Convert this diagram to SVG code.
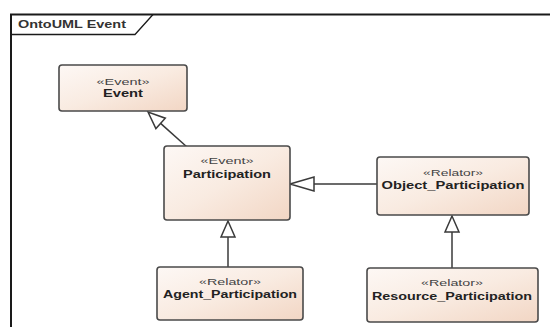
<svg xmlns="http://www.w3.org/2000/svg" width="550" height="327" viewBox="0 0 550 327">
  <defs>
    <linearGradient id="boxfill" x1="0" y1="0" x2="1" y2="1">
      <stop offset="0" stop-color="#fdf8f5"/>
      <stop offset="0.5" stop-color="#f9ebe1"/>
      <stop offset="1" stop-color="#f2d6c4"/>
    </linearGradient>
    <style>
      .box { fill: url(#boxfill); stroke: #4a4a4a; stroke-width: 1.6; }
      .st { font-family: "Liberation Sans", Arial, sans-serif; font-size: 9px; fill: #444; text-anchor: middle; }
      .nm { font-family: "Liberation Sans", Arial, sans-serif; font-size: 11px; font-weight: bold; fill: #222; text-anchor: middle; }
      .conn { stroke: #3a3a3a; stroke-width: 1.5; fill: none; }
      .head { fill: #ffffff; stroke: #3a3a3a; stroke-width: 1.5; stroke-linejoin: miter; }
      .frame { stroke: #1a1a1a; stroke-width: 2; fill: none; }
    </style>
  </defs>
  <rect width="550" height="327" fill="#ffffff"/>

  <g id="frame">
    <path class="frame" d="M11,327 L11,14.5 L550,14.5"/>
    <path d="M11,34.5 L135,34.5 L153,14.5" fill="none" stroke="#1a1a1a" stroke-width="1.3"/>
    <text x="18" y="28" font-family="Liberation Sans, Arial, sans-serif" font-size="11" font-weight="bold" fill="#333" textLength="108" lengthAdjust="spacingAndGlyphs">OntoUML Event</text>
  </g>

  <g id="connectors">
    <line class="conn" x1="187" y1="147" x2="160.6" y2="123.4"/>
    <polygon class="head" points="148,112 155.9,128.6 165.3,118.2"/>
    <line class="conn" x1="377" y1="184" x2="314" y2="184"/>
    <polygon class="head" points="290,184 314,177 314,191"/>
    <line class="conn" x1="228" y1="267" x2="228" y2="237"/>
    <polygon class="head" points="228,221 221,237 235,237"/>
    <line class="conn" x1="452" y1="268" x2="452" y2="232"/>
    <polygon class="head" points="452,216 445,232 459,232"/>
  </g>

  <g id="node-event">
    <rect class="box" x="59" y="65" width="128" height="46" rx="3"/>
    <text class="st" x="123" y="85" textLength="53" lengthAdjust="spacingAndGlyphs">«Event»</text>
    <text class="nm" x="123" y="97" textLength="40" lengthAdjust="spacingAndGlyphs">Event</text>
  </g>

  <g id="node-participation">
    <rect class="box" x="164" y="146" width="126" height="74" rx="3"/>
    <text class="st" x="227" y="164" textLength="53" lengthAdjust="spacingAndGlyphs">«Event»</text>
    <text class="nm" x="227" y="178" textLength="88" lengthAdjust="spacingAndGlyphs">Participation</text>
  </g>

  <g id="node-object-participation">
    <rect class="box" x="377" y="157" width="152" height="58" rx="3"/>
    <text class="st" x="453" y="176" textLength="60" lengthAdjust="spacingAndGlyphs">«Relator»</text>
    <text class="nm" x="453" y="189" textLength="143" lengthAdjust="spacingAndGlyphs">Object_Participation</text>
  </g>

  <g id="node-agent-participation">
    <rect class="box" x="157" y="267" width="146" height="53" rx="3"/>
    <text class="st" x="230" y="285" textLength="62" lengthAdjust="spacingAndGlyphs">«Relator»</text>
    <text class="nm" x="230" y="298" textLength="134" lengthAdjust="spacingAndGlyphs">Agent_Participation</text>
  </g>

  <g id="node-resource-participation">
    <rect class="box" x="367" y="268" width="171" height="54" rx="3"/>
    <text class="st" x="452" y="286" textLength="62" lengthAdjust="spacingAndGlyphs">«Relator»</text>
    <text class="nm" x="452" y="300" textLength="160" lengthAdjust="spacingAndGlyphs">Resource_Participation</text>
  </g>
</svg>
